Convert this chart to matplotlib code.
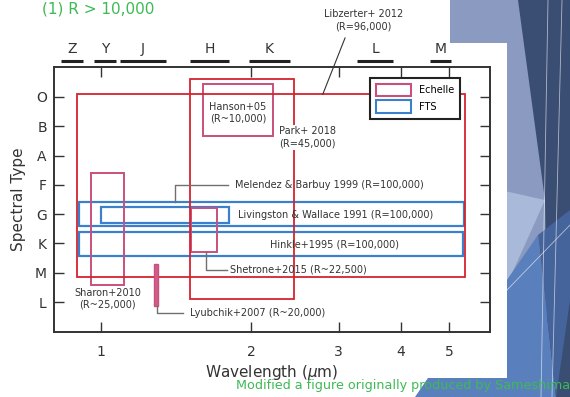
import numpy as np
import matplotlib.pyplot as plt
from matplotlib.patches import Rectangle, Polygon, Patch

# spectral types on the y axis, hottest at the top (O=0 ... L=7)
sp_types = ["O", "B", "A", "F", "G", "K", "M", "L"]

# photometric bands drawn above the frame (micron)
bands = ["Z", "Y", "J", "H", "K", "L", "M"]
band_lo = [0.83, 0.97, 1.09, 1.51, 1.98, 3.27, 4.58]
band_hi = [0.92, 1.07, 1.35, 1.81, 2.40, 3.86, 5.04]

# high resolution spectra added on top of the original figure
new_names = ["Libzerter+2012", "Park+2018"]
new_wmin = [0.894, 1.509]
new_wmax = [5.38, 2.44]
new_tmin = [-0.09, -0.61]
new_tmax = [6.13, 6.90]

# echelle spectra
ech_names = ["Hanson+05", "Sharon+2010", "Shetrone+2015"]
ech_wmin = [1.605, 0.953, 1.514]
ech_wmax = [2.218, 1.114, 1.707]
ech_tmin = [-0.43, 2.58, 3.78]
ech_tmax = [1.35, 6.42, 5.29]

# Lyubchik+2007: a narrow filled strip
lyu_w = [1.28, 1.30]
lyu_t = [5.70, 7.13]

# FTS atlases
fts_names = ["Melendez & Barbuy 1999", "Livingston & Wallace 1991", "Hinkle+1995"]
fts_wmin = [0.902, 1.00, 0.902]
fts_wmax = [5.36, 1.807, 5.34]
fts_tmin = [3.57, 3.76, 4.60]
fts_tmax = [4.40, 4.31, 5.43]

RED = "#d3232d"
PINK = "#c8507c"
BLUE = "#3b80cc"
GREY = "#707070"
INK = "#333333"
GREEN = "#3dba55"

W, H = 570, 397
fig = plt.figure(figsize=(W / 100, H / 100), dpi=100)


def px(x, y):
    return (x / W, 1 - y / H)


def fig_poly(pts, color, z):
    fig.patches.append(Polygon([px(*p) for p in pts], closed=True, facecolor=color,
                               edgecolor="none", transform=fig.transFigure, zorder=z))


# slide background on the right
fig_poly([(450, 0), (570, 0), (570, 397), (450, 397)], "#8a9ac0", -5)
fig_poly([(518, 0), (570, 0), (570, 397), (548, 397), (545, 200)], "#3a4d73", -4)
fig_poly([(500, 190), (545, 200), (500, 300)], "#a9b9da", -4)
fig_poly([(500, 290), (538, 235), (556, 397), (415, 397), (430, 375), (500, 375)], "#5a7fbd", -4)
fig_poly([(538, 235), (570, 210), (570, 300), (556, 397)], "#46649c", -4)
for (x0, y0, x1, y1) in [(548, 0, 541, 397), (562, 0, 552, 397), (507, 290, 570, 225)]:
    fig.add_artist(plt.Line2D([x0 / W, x1 / W], [1 - y0 / H, 1 - y1 / H], color="white",
                              lw=0.6, alpha=0.6, transform=fig.transFigure, zorder=-3))
# white area behind the figure
fig_poly([(0, 43), (507, 43), (507, 378), (0, 378)], "white", -2)

ax = fig.add_axes([53.7 / W, 1 - 332 / H, (490 - 53.7) / W, (332 - 67) / H])
ax.set_xscale("log")
ax.set_xlim(0.8035, 6.04)
ax.set_ylim(8.02, -1.02)

ax.set_xticks([1, 2, 3, 4, 5])
ax.set_xticklabels(["1", "2", "3", "4", "5"])
ax.xaxis.set_minor_locator(plt.NullLocator())
ax.set_yticks(range(len(sp_types)))
ax.set_yticklabels(sp_types)
ax.tick_params(direction="in", length=7, width=1, colors=INK, labelsize=10,
               top=True, right=True)
ax.tick_params(axis="x", pad=9)
ax.tick_params(axis="y", pad=5)
for s in ax.spines.values():
    s.set_linewidth(1.4)
    s.set_color(INK)

ax.set_xlabel(r"Wavelength ($\mu$m)", fontsize=11, color=INK, labelpad=3)
ax.set_ylabel("Spectral Type", fontsize=11, color=INK, labelpad=6)


def box(w0, w1, t0, t1, color, lw, **kw):
    ax.add_patch(Rectangle((w0, t0), w1 - w0, t1 - t0, fill=False,
                           edgecolor=color, linewidth=lw, **kw))


for i in range(len(fts_names)):
    box(fts_wmin[i], fts_wmax[i], fts_tmin[i], fts_tmax[i], BLUE, 1.6)
for i in range(len(ech_names)):
    box(ech_wmin[i], ech_wmax[i], ech_tmin[i], ech_tmax[i], PINK, 1.4)
for i in range(len(new_names)):
    box(new_wmin[i], new_wmax[i], new_tmin[i], new_tmax[i], RED, 1.3)
ax.add_patch(Rectangle((lyu_w[0], lyu_t[0]), lyu_w[1] - lyu_w[0], lyu_t[1] - lyu_t[0],
                       facecolor="#d35d8a", edgecolor=PINK, linewidth=1))

# band markers above the frame
for name, lo, hi in zip(bands, band_lo, band_hi):
    ax.plot([lo, hi], [-1.23, -1.23], color="#222222", lw=2.2, clip_on=False,
            solid_capstyle="butt")
    ax.text(np.sqrt(lo * hi), -1.62, name, ha="center", va="center", fontsize=10,
            color=INK, clip_on=False)

fs = 7
# labels
ax.text(1.884, 0.55, "Hanson+05\n(R~10,000)", ha="center", va="center", fontsize=fs,
        color=INK, linespacing=1.2)
ax.text(2.598, 1.38, "Park+ 2018\n(R=45,000)", ha="center", va="center", fontsize=fs,
        color=INK, linespacing=1.3,
        bbox=dict(facecolor="white", edgecolor="none", pad=1))
ax.text(3.36, -2.6, "Libzerter+ 2012\n(R=96,000)", ha="center", va="center",
        fontsize=fs, color=INK, linespacing=1.3, clip_on=False)
ax.plot([3.09, 2.788], [-2.01, -0.09], color=INK, lw=0.8, clip_on=False)

ax.plot([1.798, 1.408, 1.408], [3.0, 3.0, 3.57], color=GREY, lw=1)
ax.text(1.858, 3.0, "Melendez & Barbuy 1999 (R=100,000)", ha="left", va="center",
        fontsize=fs, color=INK)
ax.text(1.884, 4.03, "Livingston & Wallace 1991 (R=100,000)", ha="left", va="center",
        fontsize=fs, color=INK)
ax.text(2.186, 5.02, "Hinkle+1995 (R=100,000)", ha="left", va="center",
        fontsize=fs, color=INK)
ax.plot([1.625, 1.625, 1.79], [5.29, 5.9, 5.9], color=GREY, lw=1)
ax.text(1.816, 5.9, "Shetrone+2015 (R~22,500)", ha="left", va="center",
        fontsize=fs, color=INK)
ax.text(1.03, 6.9, "Sharon+2010\n(R~25,000)", ha="center", va="center",
        fontsize=fs, color=INK, linespacing=1.2)
ax.plot([1.296, 1.296, 1.46], [7.13, 7.37, 7.37], color=GREY, lw=1)
ax.text(1.509, 7.37, "Lyubchik+2007 (R~20,000)", ha="left", va="center",
        fontsize=fs, color=INK)

handles = [Patch(facecolor="none", edgecolor=PINK, linewidth=1.5, label="Echelle"),
           Patch(facecolor="none", edgecolor=BLUE, linewidth=1.5, label="FTS")]
leg = ax.legend(handles=handles, loc="upper right", bbox_to_anchor=(0.931, 0.958),
                fontsize=7, frameon=True, fancybox=False, framealpha=1,
                handlelength=3.6, handleheight=1.6, borderpad=0.6, labelspacing=0.4,
                borderaxespad=0)
leg.get_frame().set_edgecolor("#222222")
leg.get_frame().set_linewidth(1.5)

# slide title and credit
fig.text(42 / W, 1 - 9 / H, "(1) R > 10,000", ha="left", va="center", fontsize=11,
         color=GREEN)
fig.text(1.0, 1 - 386 / H, "Modified a figure originally produced by Sameshima",
         ha="right", va="center", fontsize=9.2, color=GREEN)

fig.savefig("out.png", dpi=100)
